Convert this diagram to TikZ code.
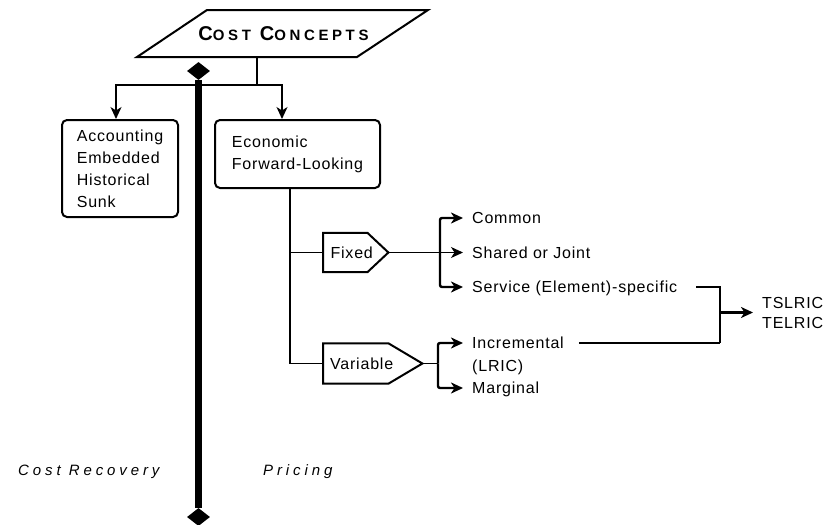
\documentclass[tikz,border=0pt]{standalone}
\usepackage{fontspec}
\setmainfont{Liberation Sans}[LetterSpace=5]
\newfontfamily\titlefont{Liberation Sans}[LetterSpace=24]
\newfontfamily\labfont{Liberation Sans}[LetterSpace=26]
\usetikzlibrary{shapes.geometric,arrows.meta,calc}
\begin{document}
\begin{tikzpicture}[x=1pt,y=-1pt,
  every node/.style={font=\fontsize{16}{22}\selectfont},
  thinline/.style={line width=1.4pt},
  brk/.style={line width=2.4pt},
  arr/.style={-{Stealth[length=12pt 0 0,width=11pt 0 0,inset=3.5pt 0 0]}},
  box/.style={draw, line width=2pt, rounded corners=5pt, align=left, inner sep=0pt},
  item/.style={anchor=west, inner xsep=9pt, inner ysep=0pt, text height=11.4pt, text depth=0pt},
  pent/.style={anchor=west, inner sep=0pt},
  lab/.style={anchor=west, inner sep=0pt, font=\fontsize{15}{18}\labfont\itshape},
  dia/.style={diamond, fill, inner sep=0pt, minimum width=23pt, minimum height=18pt},
]
\useasboundingbox (0,0) rectangle (836,525);

% title
\node[minimum width=150pt, minimum height=47pt, inner sep=0pt] (cc) at (283.5,33.5)
  {\titlefont\bfseries{\fontsize{20}{20}\selectfont C}{\fontsize{15}{15}\selectfont OST}\hspace{9pt}{\fontsize{20}{20}\selectfont C}{\fontsize{15}{15}\selectfont ONCEPTS}};
\draw[line width=2pt] (137,57) -- (207,10) -- (428,10) -- (357,57) -- cycle;

% thick divider
\node[dia] (dtop) at (198.5,71) {};
\node[dia] (dbot) at (198.5,517) {};
\draw[line width=7pt] (dtop) -- (dbot);

% boxes
\node[box, minimum width=116pt, minimum height=97pt] (acc) at (120,168.5) {Accounting\\Embedded\\Historical\\Sunk};
\node[box, minimum width=165pt, minimum height=68pt] (eco) at (297.5,154) {Economic\\Forward-Looking};

\coordinate (j1) at (257,85);
\draw[thinline] (cc.south -| j1) -- (j1);
\draw[thinline,arr] (j1) -| ([xshift=-4pt]acc.north);
\draw[thinline,arr] (j1) -| ([xshift=-15.5pt]eco.north);

% pentagons
\node[pent, minimum width=44pt, minimum height=39pt] (fixed) at (323,252.5) {};
\draw[line width=2pt] (fixed.north west) -- (fixed.north east) -- ($(fixed.east)+(21,0)$) coordinate (fixtip) -- (fixed.south east) -- (fixed.south west) -- cycle;
\node (fixedlbl) at ($(fixed.center)+(6.5,0)$) {Fixed};

\node[pent, minimum width=65pt, minimum height=40pt] (var) at (323,363.5) {};
\draw[line width=2pt] (var.north west) -- (var.north east) -- ($(var.east)+(34,0)$) coordinate (vartip) -- (var.south east) -- (var.south west) -- cycle;
\node (varlbl) at ($(var.center)+(6,0)$) {Variable};

\coordinate (tr) at (290,363.5);
\draw[thinline] (eco.south -| tr) -- (tr) -- (var.west);
\draw[thinline] (tr |- fixed.west) -- (fixed.west);

% items
\node[item] (com) at (463,218) {Common};
\node[item] (shr) at (463,252.5) {Shared or Joint};
\node[item] (svc) at (463,287) {Service (Element)-specific};
\node[item] (inc) at (463,343) {Incremental};
\node[item] (lric) at (463,365.5) {(LRIC)};
\node[item] (mar) at (463,388) {Marginal};

\coordinate (fb) at (440,252.5);
\draw[thinline,arr] (fixtip) -- (shr.west);
\draw[brk,arr,rounded corners=2pt] (fb) |- (com.west);
\draw[brk,arr,rounded corners=2pt] (fb) |- (svc.west);

\coordinate (vb) at (438,363.5);
\draw[thinline] (vartip) -- (vb);
\draw[brk,arr,rounded corners=2pt] (vb) |- (inc.west);
\draw[brk,arr,rounded corners=2pt] (vb) |- (mar.west);

% TSLRIC
\node[anchor=west, inner xsep=9pt, inner ysep=0pt, align=left, font=\fontsize{16}{20}\selectfont] (tt) at (753,312.5) {TSLRIC\\TELRIC};
\coordinate (tb) at (720,312.5);
\coordinate (tbot) at (720,343);
\draw[brk] ([xshift=10pt]svc.east) -| (tbot);
\draw[thinline] ([xshift=6pt]inc.east) -- (tbot);
\draw[brk,arr] (tb) -- (tt.west);

% bottom labels
\node[lab] (cr) at (18,472) {Cost Recovery};
\node[lab] (pr) at (263,472) {Pricing};
\end{tikzpicture}
\end{document}
